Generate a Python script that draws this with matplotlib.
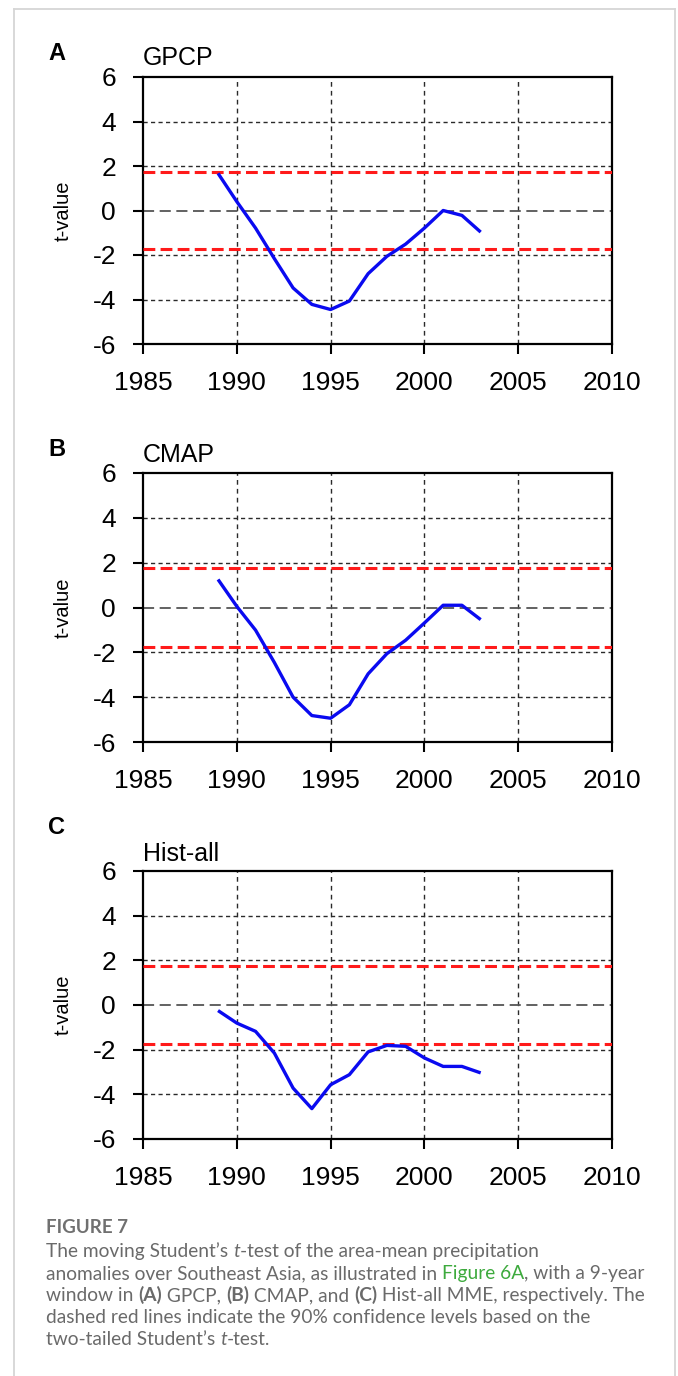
import matplotlib
matplotlib.use("Agg")
import matplotlib.pyplot as plt
from matplotlib.lines import Line2D

plt.rcParams["lines.scale_dashes"] = False

# ---------------- data ----------------
years = list(range(1989, 2004))
gpcp = [1.67, 0.40, -0.79, -2.16, -3.48, -4.22, -4.45, -4.07, -2.84, -2.06, -1.51, -0.79, 0.0, -0.22, -0.97]
cmap = [1.25, 0.05, -1.01, -2.45, -4.00, -4.82, -4.94, -4.34, -2.96, -2.06, -1.46, -0.69, 0.10, 0.10, -0.54]
hist_all = [-0.25, -0.81, -1.18, -2.15, -3.72, -4.64, -3.57, -3.12, -2.10, -1.81, -1.85, -2.37, -2.75, -2.75, -3.04]

panel_letters = ["A", "B", "C"]
panel_titles = ["GPCP", "CMAP", "Hist-all"]
series = [gpcp, cmap, hist_all]

t_crit = 1.75
xticks = [1985, 1990, 1995, 2000, 2005, 2010]
yticks = [-6, -4, -2, 0, 2, 4, 6]
ytick_labels = ["-6", "-4", "-2", "0", "2", "4", "6"]
ygrid = [-4, -2, 2, 4]
xgrid = [1990, 1995, 2000, 2005]

W, H = 678, 1376
fig = plt.figure(figsize=(W / 100, H / 100), dpi=100)

AXFONT = "Liberation Sans"
# pixel layout of each panel: (top, bottom, letter_y, title_baseline)
layouts = [(77, 344, 54, 65), (473, 742, 450, 462), (871, 1139, 827, 861)]
left_px, right_px = 143, 612

for (top, bot, ly, ty), letter, title, vals in zip(layouts, panel_letters, panel_titles, series):
    ax = fig.add_axes([left_px / W, 1 - bot / H, (right_px - left_px) / W, (bot - top) / H])
    ax.set_xlim(1985, 2010)
    ax.set_ylim(-6, 6)
    for g in ygrid:
        ax.axhline(g, color="#2a2a2a", lw=1.0, ls=(0, (3.0, 2.4)), zorder=1)
    for g in xgrid:
        ax.axvline(g, color="#2a2a2a", lw=1.0, ls=(0, (3.4, 3.0)), zorder=1)
    ax.axhline(0, color="#555555", lw=1.3, ls=(0, (8.0, 4.0)), zorder=2)
    for c in (t_crit, -t_crit):
        ax.axhline(c, color="#ff1a1a", lw=2.2, ls=(0, (8.5, 3.8)), zorder=3)
    ax.plot(years, vals, color="#0a0af0", lw=2.4, zorder=4, solid_capstyle="butt")

    ax.set_xticks(xticks)
    ax.set_xticklabels([str(x) for x in xticks], fontsize=19, family=AXFONT)
    ax.set_yticks(yticks)
    ax.set_yticklabels(ytick_labels, fontsize=19, family=AXFONT)
    ax.tick_params(direction="out", length=7.5, width=1.5, pad=12, color="black")
    ax.tick_params(top=False, right=False)
    for s in ax.spines.values():
        s.set_linewidth(1.6)
    ax.set_ylabel("t-value", fontsize=14.5, family=AXFONT, labelpad=4)
    ax.yaxis.set_label_coords(-(left_px - 73) / (right_px - left_px), 0.5)

    fig.text(48 / W, 1 - ly / H, letter, fontsize=17, weight="bold", family=AXFONT,
             ha="left", va="center")
    fig.text(left_px / W, 1 - ty / H, title, fontsize=18, family=AXFONT,
             ha="left", va="baseline")

# figure border (light gray frame)
for xs, ys in [((14, 14), (9, H)), ((14, 675), (9, 9)), ((675, 675), (9, H))]:
    fig.add_artist(Line2D([x / W for x in xs], [1 - y / H for y in ys],
                          color="#d6d6d6", lw=1.3, transform=fig.transFigure))

# ---------------- caption ----------------
TXT = "#6a6a6a"
GREEN = "#3daa3d"
CAPFONT = "Lato"
renderer = fig.canvas.get_renderer()


def kw_for(style, size):
    kw = dict(fontsize=size, family=CAPFONT, color=TXT)
    if style == "i":
        kw["style"] = "italic"
    if style == "b":
        kw["weight"] = "bold"
    if style == "g":
        kw["color"] = GREEN
    return kw


def text_width(s, kw):
    t1 = fig.text(0, 0, s + "|", **kw)
    t2 = fig.text(0, 0, "|", **kw)
    w = t1.get_window_extent(renderer).width - t2.get_window_extent(renderer).width
    t1.remove()
    t2.remove()
    return w


cap_lines = [
    [("The moving Student\u2019s ", ""), ("t", "i"), ("-test of the area-mean precipitation", "")],
    [("anomalies over Southeast Asia, as illustrated in ", ""), ("Figure 6A", "g"), (", with a 9-year", "")],
    [("window in ", ""), ("(A)", "b"), (" GPCP, ", ""), ("(B)", "b"), (" CMAP, and ", ""), ("(C)", "b"),
     (" Hist-all MME, respectively. The", "")],
    [("dashed red lines indicate the 90% confidence levels based on the", "")],
    [("two-tailed Student\u2019s ", ""), ("t", "i"), ("-test.", "")],
]

# scale caption font so that the second line spans the measured width
base = 13.0
w2 = sum(text_width(s, kw_for(st, base)) for s, st in cap_lines[1])
cap_size = base * 598.0 / w2

fig.text(46 / W, 1 - 1233 / H, "FIGURE 7", fontsize=13.5, weight="bold", family=CAPFONT,
         color="#707070", ha="left", va="baseline")

baselines = [1257, 1279, 1301, 1323, 1345]
for yb, runs in zip(baselines, cap_lines):
    x = 46.0
    for s, st in runs:
        kw = kw_for(st, cap_size)
        fig.text(x / W, 1 - yb / H, s, ha="left", va="baseline", **kw)
        x += text_width(s, kw)

fig.savefig("out.png", dpi=100)
